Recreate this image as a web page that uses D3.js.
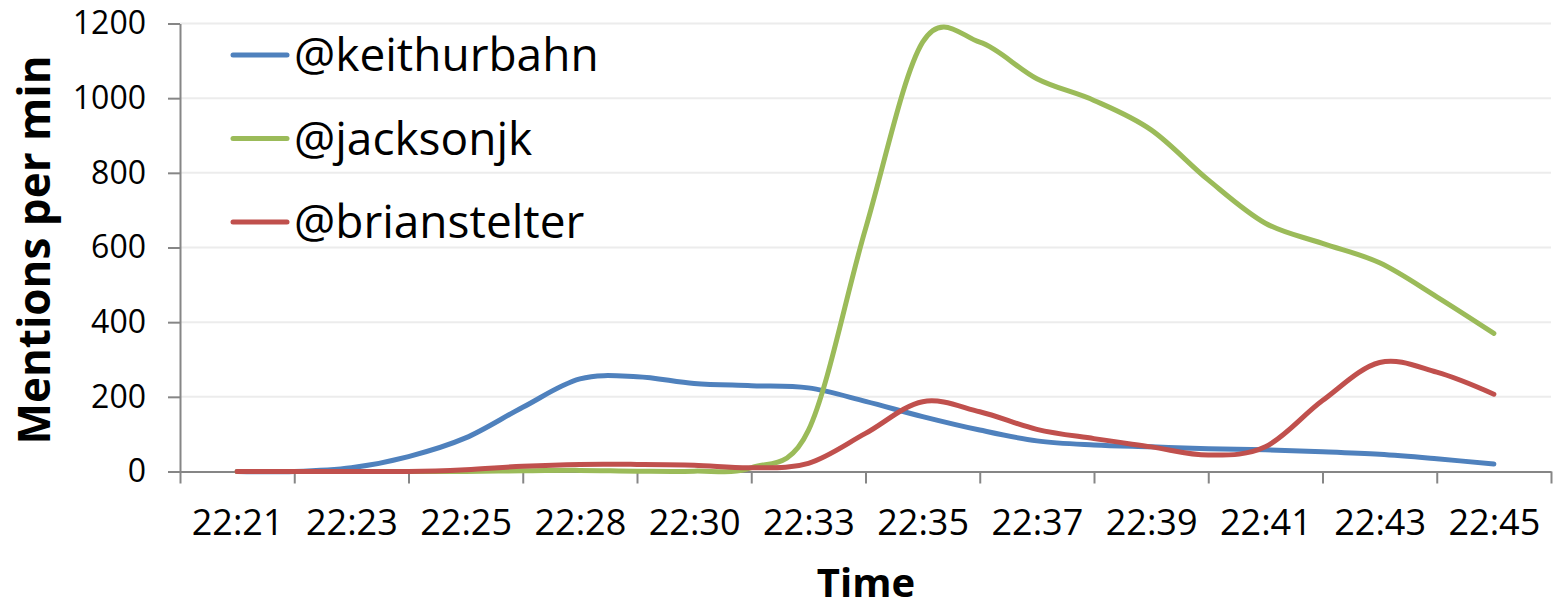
<!DOCTYPE html>
<html>
<head>
<meta charset="utf-8">
<script src="https://cdn.jsdelivr.net/npm/d3@7"></script>
<style>
  body { margin: 0; background: #fff; }
  text { font-family: "Open Sans", sans-serif; fill: #000; }
</style>
</head>
<body>
<div id="chart"></div>
<script>
// one sample roughly every minute, only every other one is labelled
const times = ["22:21", "22:22", "22:23", "22:24", "22:25", "22:26", "22:28", "22:29",
    "22:30", "22:31", "22:33", "22:34", "22:35", "22:36", "22:37", "22:38",
    "22:39", "22:40", "22:41", "22:42", "22:43", "22:44", "22:45"];
const keithurbahn = [0, 0, 10, 40, 90, 172, 248, 254, 236, 230, 224, 188,
    147, 111, 82, 71, 66, 61, 58, 53, 46, 34, 20];
const jacksonjk = [0, 0, 0, 0, 0, 2, 3, 1, 1, 10, 110, 650,
    1150, 1150, 1052, 994, 915, 781, 665, 611, 559, 468, 370];
const brianstelter = [0, 0, 0, 0, 5, 14, 19, 19, 17, 10, 22, 102,
    187, 160, 113, 88, 66, 44, 66, 190, 292, 266, 207];
const yTicks = [0, 200, 400, 600, 800, 1000, 1200];
const names = ["@keithurbahn", "@jacksonjk", "@brianstelter"];
const colors = ["#4f81bd", "#9bbb59", "#c0504d"];

const width = 1554, height = 612;
const axisColor = "#868686";

const svg = d3.select("#chart")
    .append("svg")
    .attr("width", width)
    .attr("height", height);

const x = d3.scaleLinear()
    .domain([-1, times.length])
    .range([180, 1551]);
const y = d3.scaleLinear()
    .domain([0, 1200])
    .range([471.5, 23.5]);

// gridlines
svg.append("g")
    .selectAll("line")
    .data(yTicks.slice(1))
    .join("line")
    .attr("x1", x(-1)).attr("x2", x(times.length))
    .attr("y1", d => y(d)).attr("y2", d => y(d))
    .attr("stroke", "#ececec")
    .attr("stroke-width", 2);

// x axis: tick marks between every second sample
const xTicks = svg.append("g")
    .attr("transform", `translate(0,${y(0)})`)
    .call(d3.axisBottom(x)
        .tickValues(d3.range(-1, times.length + 1, 2))
        .tickSize(12)
        .tickSizeOuter(0)
        .tickFormat(""));
xTicks.select(".domain").attr("stroke", axisColor).attr("stroke-width", 2);
xTicks.selectAll(".tick line").attr("stroke", axisColor).attr("stroke-width", 2);

// x labels sit on the even samples
const xLabels = svg.append("g")
    .attr("transform", `translate(0,${y(0)})`)
    .call(d3.axisBottom(x)
        .tickValues(d3.range(0, times.length, 2))
        .tickSize(0)
        .tickPadding(38)
        .tickFormat(i => times[i]));
xLabels.select(".domain").remove();
xLabels.selectAll("text")
    .attr("font-size", 36)
    .attr("font-family", "Open Sans")
    .attr("fill", "#000");

// y axis
const yAxis = svg.append("g")
    .attr("transform", `translate(${x(-1)},0)`)
    .call(d3.axisLeft(y)
        .tickValues(yTicks)
        .tickSize(12)
        .tickSizeOuter(0)
        .tickPadding(22)
        .tickFormat(d3.format("d")));
yAxis.select(".domain").attr("stroke", axisColor).attr("stroke-width", 2);
yAxis.selectAll(".tick line").attr("stroke", axisColor).attr("stroke-width", 2);
yAxis.selectAll("text")
    .attr("font-size", 32)
    .attr("font-family", "Open Sans")
    .attr("fill", "#000");

// lines
const line = d3.line()
    .x((d, i) => x(i))
    .y(d => y(d))
    .curve(d3.curveCardinal.tension(0));

[keithurbahn, jacksonjk, brianstelter].forEach((series, i) => {
    svg.append("path")
        .datum(series)
        .attr("fill", "none")
        .attr("stroke", colors[i])
        .attr("stroke-width", 5)
        .attr("stroke-linejoin", "round")
        .attr("stroke-linecap", "round")
        .attr("d", line);
});

// legend
const legend = svg.append("g");
names.forEach((name, i) => {
    const ly = 55 + i * 83.5;
    legend.append("line")
        .attr("x1", 233).attr("x2", 287)
        .attr("y1", ly).attr("y2", ly)
        .attr("stroke", colors[i])
        .attr("stroke-width", 5)
        .attr("stroke-linecap", "round");
    legend.append("text")
        .attr("x", 294)
        .attr("y", ly)
        .attr("dy", "0.35em")
        .attr("font-size", 46)
        .text(name);
});

// axis titles
svg.append("text")
    .attr("transform", "translate(35,250) rotate(-90)")
    .attr("text-anchor", "middle")
    .attr("dy", "0.35em")
    .attr("font-size", 44)
    .attr("font-weight", "bold")
    .text("Mentions per min");
svg.append("text")
    .attr("x", 866)
    .attr("y", 583)
    .attr("text-anchor", "middle")
    .attr("dy", "0.35em")
    .attr("font-size", 40)
    .attr("font-weight", "bold")
    .text("Time");
</script>
</body>
</html>
